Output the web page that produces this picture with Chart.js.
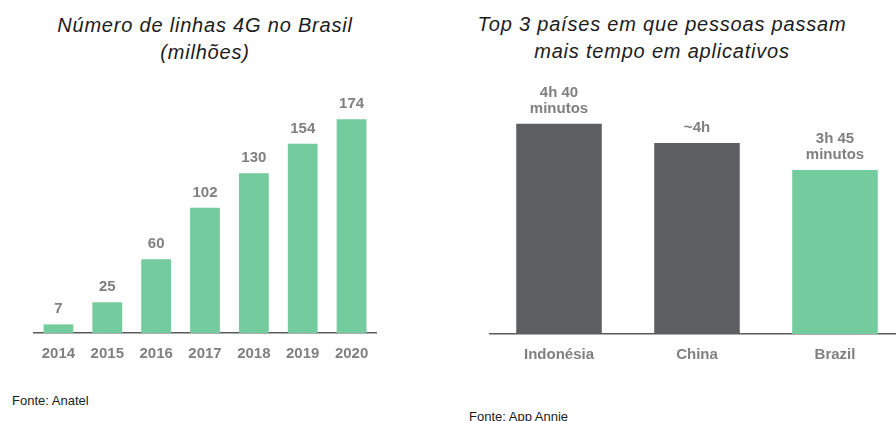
<!DOCTYPE html>
<html lang="pt">
<head>
    <meta charset="UTF-8">
    <title>Linhas 4G e tempo em aplicativos</title>
    <script src="https://cdn.jsdelivr.net/npm/chart.js"></script>
    <style>
        html, body { margin: 0; padding: 0; background: #fff; overflow: hidden; }
        body { width: 896px; height: 421px; position: relative; font-family: "Liberation Sans", Arial, sans-serif; }
        .title { position: absolute; font-style: italic; font-size: 20px; letter-spacing: 0.8px; color: #1c1c1c; text-align: center; line-height: 27px; }
        .fonte { position: absolute; font-size: 13px; color: #1c1c1c; }
        #linhasChart { position: absolute; left: 0; top: 0; }
        #appsChart { position: absolute; left: 448px; top: 0; }
    </style>
</head>
<body>
    <div class="title" style="left: 0; top: 12px; width: 410px;">Número de linhas 4G no Brasil<br>(milhões)</div>
    <div class="title" style="left: 448px; top: 11px; width: 428px;">Top 3 países em que pessoas passam<br>mais tempo em aplicativos</div>
    <div class="fonte" style="left: 12px; top: 393px;">Fonte: Anatel</div>
    <div class="fonte" style="left: 469px; top: 409px;">Fonte: App Annie</div>

    <canvas id="linhasChart" width="448" height="421"></canvas>
    <canvas id="appsChart" width="456" height="421"></canvas>

    <script>
        // Número de linhas 4G (milhões)
        const anos = ['2014', '2015', '2016', '2017', '2018', '2019', '2020'];
        const linhas4G = [7, 25, 60, 102, 130, 154, 174];

        // Tempo em aplicativos (minutos por dia) - China "~4h" estimado pela altura da barra
        const paises = ['Indonésia', 'China', 'Brazil'];
        const tempoMinutos = [280, 257, 225];
        const rotulosTempo = [['4h 40', 'minutos'], ['~4h'], ['3h 45', 'minutos']];

        const verde = '#73cb9e';
        const cinza = '#5e5f61';
        const cinzaTexto = '#808080';

        // draws text above each bar
        const barLabels = {
            id: 'barLabels',
            afterDatasetsDraw(chart, args, opts) {
                const ctx = chart.ctx;
                const meta = chart.getDatasetMeta(0);
                ctx.save();
                ctx.font = 'bold 15px "Liberation Sans", Arial, sans-serif';
                ctx.fillStyle = cinzaTexto;
                ctx.textAlign = 'center';
                ctx.textBaseline = 'alphabetic';
                meta.data.forEach((bar, i) => {
                    let lines = opts.labels[i];
                    if (!Array.isArray(lines)) lines = [String(lines)];
                    const n = lines.length;
                    lines.forEach((txt, j) => {
                        ctx.fillText(txt, bar.x, bar.y - 11 - (n - 1 - j) * 16);
                    });
                });
                ctx.restore();
            }
        };

        const xAxis = {
            grid: { display: false },
            border: { display: true, color: '#5a5a5a', width: 1.5 },
            ticks: {
                color: cinzaTexto,
                padding: 4,
                font: { family: '"Liberation Sans", Arial, sans-serif', size: 15, weight: 'bold' }
            }
        };

        new Chart(document.getElementById('linhasChart'), {
            type: 'bar',
            data: {
                labels: anos,
                datasets: [{
                    data: linhas4G,
                    backgroundColor: verde,
                    categoryPercentage: 1,
                    barPercentage: 0.61
                }]
            },
            options: {
                responsive: false,
                animation: false,
                layout: { padding: { left: 34, right: 72, top: 80, bottom: 54 } },
                plugins: {
                    legend: { display: false },
                    tooltip: { enabled: false },
                    barLabels: { labels: linhas4G }
                },
                scales: {
                    x: xAxis,
                    y: { display: false, min: 0, max: 206 }
                }
            },
            plugins: [barLabels]
        });

        new Chart(document.getElementById('appsChart'), {
            type: 'bar',
            data: {
                labels: paises,
                datasets: [{
                    data: tempoMinutos,
                    backgroundColor: [cinza, cinza, verde],
                    categoryPercentage: 1,
                    barPercentage: 0.62
                }]
            },
            options: {
                responsive: false,
                animation: false,
                layout: { padding: { left: 42, right: 0, top: 80, bottom: 53 } },
                plugins: {
                    legend: { display: false },
                    tooltip: { enabled: false },
                    barLabels: { labels: rotulosTempo }
                },
                scales: {
                    x: xAxis,
                    y: { display: false, min: 30, max: 332 }
                }
            },
            plugins: [barLabels]
        });
    </script>
</body>
</html>
